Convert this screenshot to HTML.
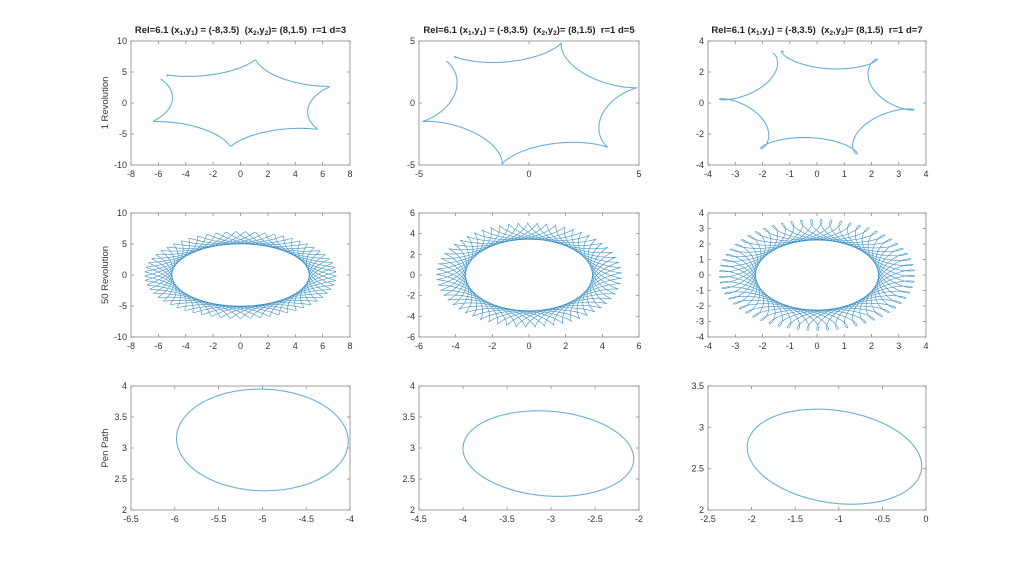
<!DOCTYPE html>
<html><head><meta charset="utf-8"><style>
body{margin:0;background:#fff}
text{font-family:"Liberation Sans",sans-serif;}
</style></head><body>
<svg id="s" width="1023" height="571" xmlns="http://www.w3.org/2000/svg"></svg>
<script>
const S=document.getElementById('s');const NS='http://www.w3.org/2000/svg';
function el(t,a,txt){const e=document.createElementNS(NS,t);for(const k in a)e.setAttribute(k,a[k]);if(txt!==undefined)e.textContent=txt;S.appendChild(e);return e;}
const cols=[[131,350],[419,639],[708,926]];
const rows=[[41,165],[213,337],[386,510]];
const ranges=[
[[-8,8,2,-10,10,5],[-5,5,5,-5,5,5],[-4,4,1,-4,4,2]],
[[-8,8,2,-10,10,5],[-6,6,2,-6,6,2],[-4,4,1,-4,4,1]],
[[-6.5,-4,.5,2,4,.5],[-4.5,-2,.5,2,4,.5],[-2.5,0,.5,2,3.5,.5]]];
const hyp=[[6,1,146],[4.25,0.8,138],[2.92,0.67,117]];
const ell=[[-5,0.98,3.13,0.82,-0.03],[-3.03,0.97,2.91,0.69,-0.12],[-1.05,1.0,2.645,0.575,-0.2]];
const titles=['d=3','d=5','d=7'];
function fmt(v){return (Math.round(v*10)/10).toString();}
for(let r=0;r<3;r++)for(let c=0;c<3;c++){
 const [x0,x1]=cols[c],[y0,y1]=rows[r];const [a,b,xs,ya,yb,ys]=ranges[r][c];
 const X=v=>x0+(v-a)/(b-a)*(x1-x0),Y=v=>y1-(v-ya)/(yb-ya)*(y1-y0);
 let pts=[];
 if(r<2){const [A,B,rd]=hyp[c];const rho=rd*Math.PI/180;const n=6.1;const T=r==0?2*Math.PI:100*Math.PI;const N=r==0?800:30000;
  for(let i=0;i<=N;i++){const t=T*i/N;const x=A*Math.cos(t)+B*Math.cos((n-1)*t),y=A*Math.sin(t)-B*Math.sin((n-1)*t);
   const xr=x*Math.cos(rho)-y*Math.sin(rho),yr=x*Math.sin(rho)+y*Math.cos(rho);
   pts.push(X(xr).toFixed(2)+','+Y(yr).toFixed(2));}}
 else{const [cx,ax,cy,by,ph]=ell[c];for(let i=0;i<=400;i++){const t=2*Math.PI*i/400;pts.push(X(cx+ax*Math.cos(t)).toFixed(2)+','+Y(cy+by*Math.sin(t+ph)).toFixed(2));}}
 el('polyline',{points:pts.join(' '),fill:'none',stroke:r==1?'#3a8fc6':'#6aafd6','stroke-width':r==1?0.6:1.1});
 el('rect',{x:x0,y:y0,width:x1-x0,height:y1-y0,fill:'none',stroke:'#888','stroke-width':0.8});
 for(let v=a;v<=b+1e-9;v+=xs){const px=X(v);el('line',{x1:px,x2:px,y1:y1,y2:y1-3,stroke:'#888','stroke-width':.8});el('line',{x1:px,x2:px,y1:y0,y2:y0+3,stroke:'#888','stroke-width':.8});
  el('text',{x:px,y:y1+12,'font-size':9,'text-anchor':'middle',fill:'#333'},fmt(v));}
 for(let v=ya;v<=yb+1e-9;v+=ys){const py=Y(v);el('line',{x1:x0,x2:x0+3,y1:py,y2:py,stroke:'#888','stroke-width':.8});el('line',{x1:x1,x2:x1-3,y1:py,y2:py,stroke:'#888','stroke-width':.8});
  el('text',{x:x0-4,y:py+3,'font-size':9,'text-anchor':'end',fill:'#333'},fmt(v));}
 if(r==0){const t=el('text',{x:(x0+x1)/2,y:33,'font-size':9.5,'font-weight':'bold','text-anchor':'middle',fill:'#222'});
  t.innerHTML='Rel=6.1 (x<tspan font-size="6.5" dy="2">1</tspan><tspan dy="-2">,y</tspan><tspan font-size="6.5" dy="2">1</tspan><tspan dy="-2">) = (-8,3.5)  (x</tspan><tspan font-size="6.5" dy="2">2</tspan><tspan dy="-2">,y</tspan><tspan font-size="6.5" dy="2">2</tspan><tspan dy="-2">)= (8,1.5)  r=1 '+titles[c]+'</tspan>';
  t.style.whiteSpace='pre';}
}
const yl=['1 Revolution','50 Revolution','Pen Path'];
for(let r=0;r<3;r++){const cy=(rows[r][0]+rows[r][1])/2;el('text',{x:0,y:0,'font-size':9.5,'text-anchor':'middle',fill:'#333',transform:`translate(108,${cy}) rotate(-90)`},yl[r]);}
</script>
</body></html>
